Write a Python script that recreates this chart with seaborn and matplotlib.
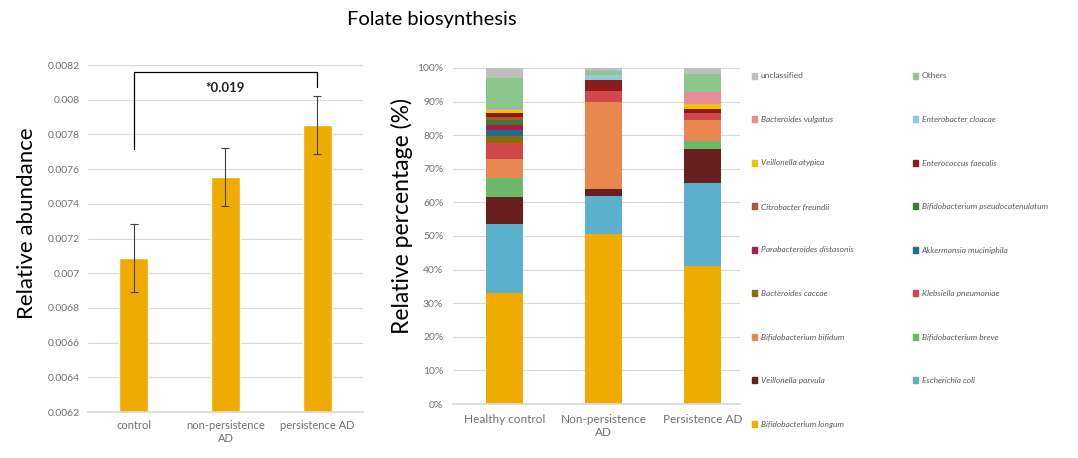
import matplotlib
matplotlib.use('Agg')
import matplotlib.pyplot as plt
import matplotlib.patches as mpatches
import seaborn as sns
import numpy as np
import pandas as pd

# left panel: relative abundance per group
groups = ['control', 'non-persistence\nAD', 'persistence AD']
abundance = [0.007087, 0.007555, 0.007853]
abundance_err = [0.000195, 0.000167, 0.000168]
p_label = '*0.019'

# right panel: species composition (%) per group, bottom to top
cohorts = ['Healthy control', 'Non-persistence\nAD', 'Persistence AD']
species = ['Bifidobacterium longum', 'Escherichia coli', 'Veillonella parvula',
           'Bifidobacterium breve', 'Bifidobacterium bifidum', 'Klebsiella pneumoniae',
           'Bacteroides caccae', 'Akkermansia muciniphila', 'Parabacteroides distasonis',
           'Bifidobacterium pseudocatenulatum', 'Citrobacter freundii',
           'Enterococcus faecalis', 'Veillonella atypica', 'Enterobacter cloacae',
           'Bacteroides vulgatus', 'Others', 'unclassified']
healthy = [33.0, 20.5, 8.0, 5.8, 5.5, 4.8, 2.2, 1.7, 1.4, 1.5, 1.1, 1.2, 0.8, 0.3, 0.2, 9.0, 3.0]
non_persist = [50.5, 11.5, 2.0, 0.0, 25.8, 3.5, 0.0, 0.0, 0.0, 0.0, 0.0, 3.0, 0.0, 1.5, 0.0, 1.2, 1.0]
persist = [41.2, 24.7, 10.0, 2.5, 6.0, 2.3, 0.0, 0.0, 0.0, 0.0, 0.0, 1.0, 1.5, 0.0, 3.7, 5.2, 1.9]
colors = ['#F0AB00', '#5BB1CB', '#6A1F1F', '#6BB86B', '#E8874F', '#D0484A',
          '#8E6A0E', '#1F6F8B', '#B5174B', '#3C7A3C', '#B0582A',
          '#8A1C1C', '#F2C200', '#8DCBDD', '#E88C9A', '#8CC68C', '#BFBFBF']

sns.set_theme(style='white')
plt.rcParams['font.family'] = ['Lato', 'DejaVu Sans']

tick_col = '#707070'
grid_col = '#D9D9D9'

fig = plt.figure(figsize=(10.78, 4.58), dpi=100)

# ---- left: bar chart with error bars
ax1 = fig.add_axes([88 / 1078, 46 / 458, 275 / 1078, 347 / 458])
df1 = pd.DataFrame({'group': groups, 'value': abundance})
sns.barplot(data=df1, x='group', y='value', color='#F0AB00', width=0.32,
            saturation=1, ax=ax1, zorder=2)
ax1.errorbar(range(len(groups)), abundance, yerr=abundance_err, fmt='none',
             ecolor='#404040', elinewidth=0.8, capsize=3, capthick=0.8, zorder=3)
ax1.set_ylim(0.0062, 0.0082)
ax1.set_xlim(-0.5, 2.5)
yt = np.arange(0.0062, 0.00821, 0.0002)
ax1.set_yticks(yt)
ax1.set_yticklabels(['%g' % round(v, 5) for v in yt], color=tick_col, fontsize=7.5)
ax1.set_xticks(range(len(groups)))
ax1.set_xticklabels(groups, color=tick_col, fontsize=8)
ax1.tick_params(length=0, pad=6)
ax1.yaxis.grid(True, color=grid_col, linewidth=0.8, zorder=0)
ax1.set_axisbelow(True)
for s in ['top', 'right', 'left']:
    ax1.spines[s].set_visible(False)
ax1.spines['bottom'].set_color(grid_col)
ax1.set_xlabel('')
ax1.set_ylabel('')

# significance bracket between control and persistence AD
top = max(np.array(abundance) + np.array(abundance_err))
y_br = top + 0.00014
ax1.plot([0, 0, 2, 2], [abundance[0] + 0.00063, y_br, y_br, top + 0.00005],
         color='black', linewidth=0.9, zorder=4)
ax1.text(1, y_br - 0.00006, p_label, ha='center', va='top', fontsize=9.5,
         fontweight='bold', color='#222222')

fig.text(27 / 1078, 1 - 223 / 458, 'Relative abundance', rotation=90,
         ha='center', va='center', fontsize=16, color='black')

# ---- right: stacked composition bars
ax2 = fig.add_axes([453 / 1078, 54 / 458, 287 / 1078, 336 / 458])
comp = pd.DataFrame({'species': np.repeat(species, 3),
                     'cohort': cohorts * len(species),
                     'pct': np.array([healthy, non_persist, persist]).T.ravel()})
comp['cum'] = comp.groupby('cohort', sort=False)['pct'].cumsum()
# draw from the top layer down so each lower layer sits in front
for sp, col in reversed(list(zip(species, colors))):
    sub = comp[comp['species'] == sp]
    sns.barplot(data=sub, x='cohort', y='cum', order=cohorts, color=col,
                width=0.38, saturation=1, ax=ax2, zorder=2, linewidth=0)
ax2.set_ylim(0, 100)
ax2.set_xlim(-0.52, 2.38)
ax2.set_yticks(range(0, 101, 10))
ax2.set_yticklabels(['%d%%' % v for v in range(0, 101, 10)], color=tick_col, fontsize=7.5)
ax2.set_xticklabels(cohorts, color=tick_col, fontsize=8.5)
ax2.tick_params(length=0, pad=7)
ax2.yaxis.grid(True, color=grid_col, linewidth=0.8, zorder=0)
ax2.set_axisbelow(True)
for s in ['top', 'right', 'left']:
    ax2.spines[s].set_visible(False)
ax2.spines['bottom'].set_color(grid_col)
ax2.set_xlabel('')
ax2.set_ylabel('')

fig.text(402 / 1078, 1 - 216 / 458, 'Relative percentage (%)', rotation=90,
         ha='center', va='center', fontsize=16.5, color='black')

# legend laid out like the original: two columns, read row by row from the top
rev = list(zip(species, colors))[::-1]
col_a = rev[0::2]
col_b = rev[1::2]
handles = [mpatches.Patch(color=c, label=s) for s, c in col_a + col_b]
leg = fig.legend(handles=handles, ncol=2, loc='upper left',
                 bbox_to_anchor=(744 / 1078, 1 - 65 / 458), frameon=False,
                 fontsize=6, handlelength=0.7, handleheight=0.7,
                 handletextpad=0.4, labelspacing=4.38, columnspacing=7.1)
for t in leg.get_texts():
    t.set_color('#595959')
    if t.get_text() not in ('unclassified', 'Others'):
        t.set_style('italic')

fig.text(432 / 1078, 1 - 20 / 458, 'Folate biosynthesis', ha='center', va='center',
         fontsize=14.5, color='black')

fig.savefig('out.png', dpi=100)
